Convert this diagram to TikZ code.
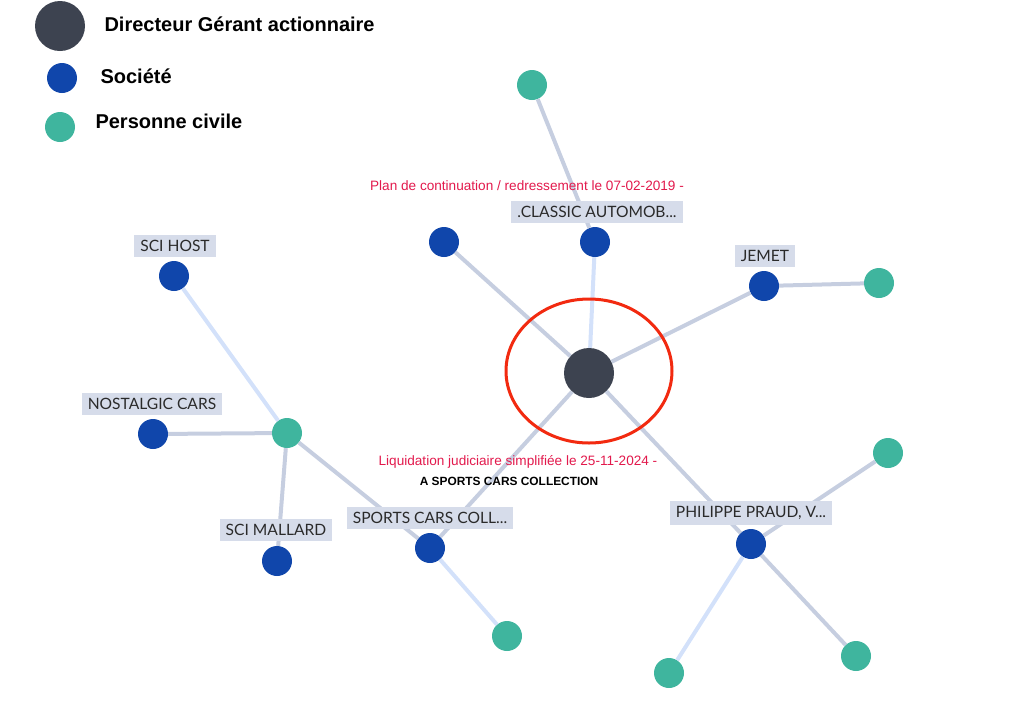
\documentclass[tikz,border=0pt]{standalone}
\usepackage{fontspec}
\setmainfont{Lato}
\newfontfamily\legendfont{Liberation Sans}
\newfontfamily\notefont{Liberation Sans}

\definecolor{boss}{HTML}{3D4350}
\definecolor{societe}{HTML}{1046AB}
\definecolor{personne}{HTML}{3FB59E}
\definecolor{lien}{HTML}{C6CEE0}
\definecolor{lienclair}{HTML}{D3E1FA}
\definecolor{tagbg}{HTML}{D6DCEA}
\definecolor{tagtext}{HTML}{2A2A2A}
\definecolor{alerte}{HTML}{E2194C}
\definecolor{cercle}{HTML}{F22A10}

\begin{document}
\begin{tikzpicture}[x=1pt,y=-1pt,
  boss/.style={circle,fill=boss,minimum size=50pt,inner sep=0pt},
  societe/.style={circle,fill=societe,minimum size=30pt,inner sep=0pt},
  personne/.style={circle,fill=personne,minimum size=30pt,inner sep=0pt},
  tag/.style={fill=tagbg,text=tagtext,font=\fontsize{15.6}{17}\selectfont,inner xsep=6pt,inner ysep=5pt},
  legende/.style={anchor=west,font=\legendfont\bfseries\fontsize{20}{22}\selectfont},
  note/.style={text=alerte,font=\notefont\fontsize{13.6}{15}\selectfont},
  lien/.style={draw=lien,line width=4pt},
  lienclair/.style={draw=lienclair,line width=4pt}]
  \useasboundingbox (0,0) rectangle (1029,716);

  % legende
  \node[boss] (lgboss) at (60,26) {};
  \node[legende] (lgbosstxt) at (101,24) {Directeur Gérant actionnaire};
  \node[societe] (lgsoc) at (62,78) {};
  \node[legende] (lgsoctxt) at (97,76) {Société};
  \node[personne] (lgpers) at (60,127) {};
  \node[legende] (lgperstxt) at (92,121) {Personne civile};

  % noeuds
  \node[boss] (gerant) at (589,373) {};
  \node[societe] (plan) at (444,242) {};
  \node[societe] (classic) at (595,242) {};
  \node[personne] (classicp) at (532,85) {};
  \node[societe] (jemet) at (764,286) {};
  \node[personne] (jemetp) at (879,283) {};
  \node[societe] (sports) at (430,548) {};
  \node[personne] (sportsp) at (507,636) {};
  \node[personne] (pivot) at (287,433) {};
  \node[societe] (host) at (174,276) {};
  \node[societe] (nostalgic) at (153,434) {};
  \node[societe] (mallard) at (277,561) {};
  \node[societe] (praud) at (751,544) {};
  \node[personne] (praudp1) at (888,453) {};
  \node[personne] (praudp2) at (669,673) {};
  \node[personne] (praudp3) at (856,656) {};

  % liens
  \draw[lien] (gerant) -- (plan);
  \draw[lienclair] (gerant) -- (classic);
  \draw[lien] (classicp) -- (classic);
  \draw[lien] (gerant) -- (jemet);
  \draw[lien] (jemet) -- (jemetp);
  \draw[lien] (gerant) -- (sports);
  \draw[lien] (gerant) -- (praud);
  \draw[lienclair] (sports) -- (sportsp);
  \draw[lien] (pivot) -- (sports);
  \draw[lienclair] (pivot) -- (host);
  \draw[lien] (pivot) -- (nostalgic);
  \draw[lien] (pivot) -- (mallard);
  \draw[lien] (praud) -- (praudp1);
  \draw[lienclair] (praud) -- (praudp2);
  \draw[lien] (praud) -- (praudp3);

  \draw[cercle,line width=3pt] (589,371) ellipse [x radius=83,y radius=72];

  % etiquettes
  \node[tag] (classictag) at (597,212) {.CLASSIC AUTOMOB...};
  \node[tag] (jemettag) at (765,256) {JEMET};
  \node[tag] (hosttag) at (175,246) {SCI HOST};
  \node[tag] (nostalgictag) at (152,404) {NOSTALGIC CARS};
  \node[tag] (mallardtag) at (276,530) {SCI MALLARD};
  \node[tag] (sportstag) at (430,518) {SPORTS CARS COLL...};
  \node[tag] (praudtag) at (751,513) {PHILIPPE PRAUD, V...};

  \node[note] (plannote) at (527,186) {Plan de continuation / redressement le 07-02-2019 -};
  \node[note] (liqnote) at (518,462) {Liquidation judiciaire simplifiée le 25-11-2024 -};
  \node[font=\notefont\bfseries\fontsize{11.9}{13}\selectfont] (liqnom) at (509,481) {A SPORTS CARS COLLECTION};
\end{tikzpicture}
\end{document}
